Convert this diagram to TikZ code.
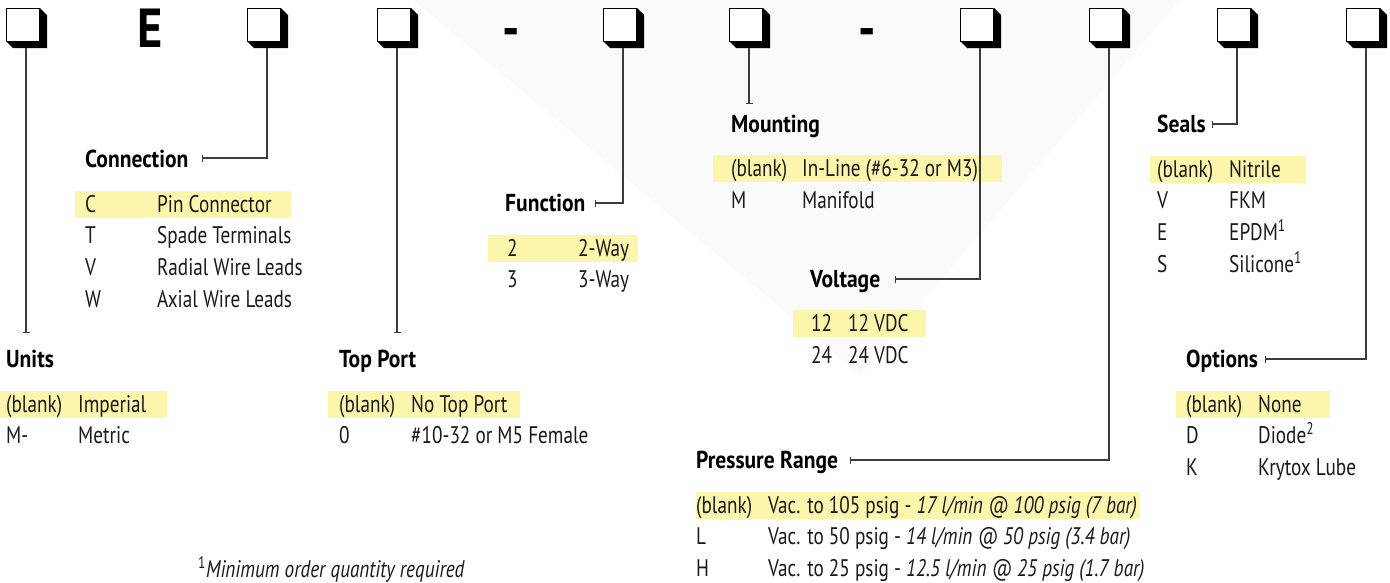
\documentclass[tikz,border=0pt]{standalone}
\usepackage{fontspec}
\setmainfont{PT Sans}[FakeStretch=0.8]
\newfontfamily\hdfont{PT Sans}[FakeStretch=0.88]
\newfontfamily\bigfont{PT Sans}[FakeStretch=0.88]
\usetikzlibrary{arrows.meta}
\definecolor{hl}{RGB}{252,246,172}
\definecolor{ln}{RGB}{60,60,60}
\definecolor{bgv}{RGB}{250,250,250}
\definecolor{tx}{RGB}{25,25,25}
\begin{document}
\begin{tikzpicture}[x=1pt,y=-1pt,
  hd/.style={font=\hdfont\bfseries\fontsize{24.5}{28}\selectfont, anchor=west, inner sep=0pt, text height=17pt, text depth=0pt},
  cell/.style={font=\fontsize{24}{28}\selectfont, anchor=west, inner sep=0pt, text height=17pt, text depth=0pt, text=tx},
  big/.style={font=\bigfont\bfseries\fontsize{55}{55}\selectfont, anchor=base, inner sep=0pt},
  conn/.style={draw=ln, line width=1.3pt, -{Bar[width=7pt,line width=1pt]}},
  pbox/.style={draw=black, fill=white, line width=1.5pt, minimum size=33pt, inner sep=0pt},
  hlbox/.style={fill=hl},
]
\useasboundingbox (0,0) rectangle (1390,582);
\fill[bgv] (413,0) -- (1180,0) -- (860,375) -- cycle;

% highlights
\fill[hlbox] (0,390.5) rectangle (167,417.5);
\fill[hlbox] (75,190.5) rectangle (291,217.5);
\fill[hlbox] (328,390.5) rectangle (520,417.5);
\fill[hlbox] (488,234.5) rectangle (638,261.5);
\fill[hlbox] (713,155) rectangle (1002,182);
\fill[hlbox] (793,310) rectangle (926,337);
\fill[hlbox] (696,491.5) rectangle (1140,518.5);
\fill[hlbox] (1150,155.5) rectangle (1306,182.5);
\fill[hlbox] (1176,390.5) rectangle (1330,417.5);

% part number boxes
\foreach \n/\s in {bu/26, bc/267, bt/397, bf/623, bm/749, bv/980, bp/1109, bs/1237, bo/1366} {
  \fill[black] (\s-20,8) -- (\s+14,8) -- (\s+21,15) -- (\s+21,48) -- (\s-13,48) -- (\s-20,41) -- cycle;
  \node[pbox] (\n) at (\s-3,25) {};
}
\node[big] (pE) at (150,47) {E};
\node[big] (pd1) at (511,47) {-};
\node[big] (pd2) at (867,47) {-};

% connector ends
\coordinate (eu) at (26,333);
\coordinate (ec) at (202,158);
\coordinate (et) at (397,333);
\coordinate (ef) at (595,203);
\coordinate (em) at (749,104);
\coordinate (ev) at (895,279);
\coordinate (ep) at (850,460);
\coordinate (es) at (1212,124);
\coordinate (eo) at (1265,359);

\draw[conn] ([xshift=3pt,yshift=-6pt]bu.south) -- (eu);
\draw[conn] ([xshift=3pt,yshift=-6pt]bc.south) |- (ec);
\draw[conn] ([xshift=3pt,yshift=-6pt]bt.south) -- (et);
\draw[conn] ([xshift=3pt,yshift=-6pt]bf.south) |- (ef);
\draw[conn] ([xshift=3pt,yshift=-6pt]bm.south) -- (em);
\draw[conn] ([xshift=3pt,yshift=-6pt]bv.south) |- (ev);
\draw[conn] ([xshift=3pt,yshift=-6pt]bp.south) |- (ep);
\draw[conn] ([xshift=3pt,yshift=-6pt]bs.south) |- (es);
\draw[conn] ([xshift=3pt,yshift=-6pt]bo.south) |- (eo);

% Units
\node[hd] (hu) at (6,359) {Units};
\node[cell] (u1k) at (6,403.5) {(blank)};
\node[cell] (u1v) at (78,403.5) {Imperial};
\node[cell] (u2k) at (6,435.2) {M-};
\node[cell] (u2v) at (78,435.2) {Metric};

% Connection
\node[hd] (hc) at (85,159) {Connection};
\node[cell] (c1k) at (85,203.5) {C};
\node[cell] (c1v) at (157,203.5) {Pin Connector};
\node[cell] (c2k) at (85,235.2) {T};
\node[cell] (c2v) at (157,235.2) {Spade Terminals};
\node[cell] (c3k) at (85,266.9) {V};
\node[cell] (c3v) at (157,266.9) {Radial Wire Leads};
\node[cell] (c4k) at (85,298.6) {W};
\node[cell] (c4v) at (157,298.6) {Axial Wire Leads};

% Top Port
\node[hd] (ht) at (339,359) {Top Port};
\node[cell] (t1k) at (339,403.5) {(blank)};
\node[cell] (t1v) at (411,403.5) {No Top Port};
\node[cell] (t2k) at (339,435.2) {0};
\node[cell] (t2v) at (411,435.2) {\#10-32 or M5 Female};

% Function
\node[hd] (hf) at (505,203) {Function};
\node[cell] (f1k) at (507,247.5) {2};
\node[cell] (f1v) at (578,247.5) {2-Way};
\node[cell] (f2k) at (507,279.2) {3};
\node[cell] (f2v) at (578,279.2) {3-Way};

% Mounting
\node[hd] (hm) at (731,123.5) {Mounting};
\node[cell] (m1k) at (731,168) {(blank)};
\node[cell] (m1v) at (802,168) {In-Line (\#6-32 or M3)};
\node[cell] (m2k) at (731,199.7) {M};
\node[cell] (m2v) at (802,199.7) {Manifold};

% Voltage
\node[hd] (hv) at (810,278.5) {Voltage};
\node[cell] (v1k) at (811,323) {12};
\node[cell] (v1v) at (848,323) {12 VDC};
\node[cell] (v2k) at (811,354.7) {24};
\node[cell] (v2v) at (848,354.7) {24 VDC};

% Pressure Range
\node[hd] (hp) at (696,460) {Pressure Range};
\node[cell] (p1k) at (696,504.5) {(blank)};
\node[cell] (p1v) at (768,504.5) {Vac. to 105 psig - \textit{17 l/min @ 100 psig (7 bar)}};
\node[cell] (p2k) at (696,536.2) {L};
\node[cell] (p2v) at (768,536.2) {Vac. to 50 psig - \textit{14 l/min @ 50 psig (3.4 bar)}};
\node[cell] (p3k) at (696,567.9) {H};
\node[cell] (p3v) at (768,567.9) {Vac. to 25 psig - \textit{12.5 l/min @ 25 psig (1.7 bar)}};

% Seals
\node[hd] (hs) at (1157,124) {Seals};
\node[cell] (s1k) at (1157,168.5) {(blank)};
\node[cell] (s1v) at (1229,168.5) {Nitrile};
\node[cell] (s2k) at (1157,200.2) {V};
\node[cell] (s2v) at (1229,200.2) {FKM};
\node[cell] (s3k) at (1157,231.9) {E};
\node[cell] (s3v) at (1229,231.9) {EPDM\textsuperscript{1}};
\node[cell] (s4k) at (1157,263.6) {S};
\node[cell] (s4v) at (1229,263.6) {Silicone\textsuperscript{1}};

% Options
\node[hd] (ho) at (1186,359) {Options};
\node[cell] (o1k) at (1186,403.5) {(blank)};
\node[cell] (o1v) at (1258,403.5) {None};
\node[cell] (o2k) at (1186,435.2) {D};
\node[cell] (o2v) at (1258,435.2) {Diode\textsuperscript{2}};
\node[cell] (o3k) at (1186,466.9) {K};
\node[cell] (o3v) at (1258,466.9) {Krytox Lube};

% footnote
\node[cell] (fn) at (198,569) {\textsuperscript{1}\textit{Minimum order quantity required}};
\end{tikzpicture}
\end{document}
